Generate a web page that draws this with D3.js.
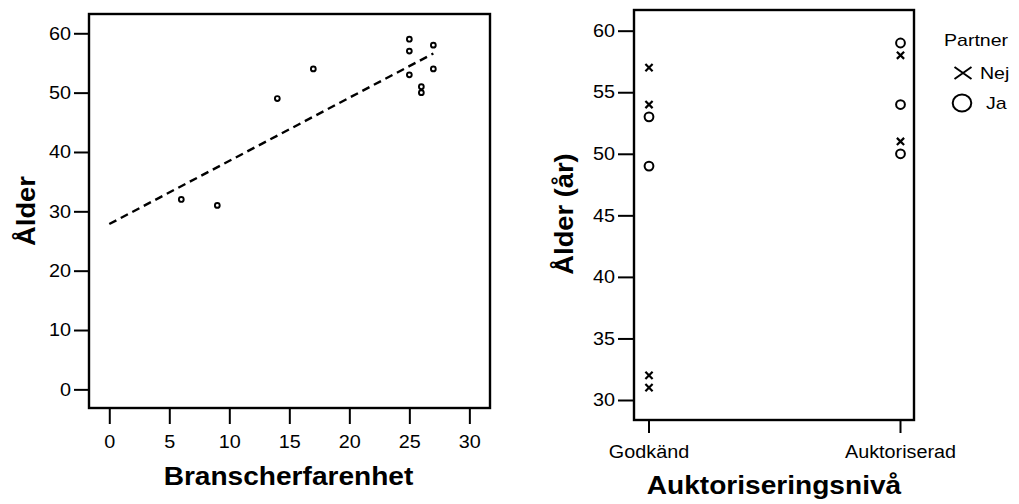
<!DOCTYPE html>
<html>
<head>
<meta charset="utf-8">
<script src="https://cdn.jsdelivr.net/npm/d3@7"></script>
<style>
  html, body { margin: 0; padding: 0; background: #fff; }
  svg { display: block; }
  text { font-family: "Liberation Sans", Arial, sans-serif; fill: #000; }
</style>
</head>
<body>
<svg id="chart" width="1019" height="504"></svg>
<script>
// Left panel: age vs. years of industry experience
const experience = [6, 9, 14, 17, 25, 25, 25, 26, 26, 27, 27];
const ageByExperience = [32, 31, 49, 54, 59, 57, 53, 51, 50, 58, 54];
const leftXTicks = [0, 5, 10, 15, 20, 25, 30];
const leftYTicks = [0, 10, 20, 30, 40, 50, 60];

// Right panel: age by authorisation level, marked by partner status
const levels = ["Godkänd", "Auktoriserad"];
const partnerGroups = ["Nej", "Ja"];
const pointLevel = ["Godkänd", "Godkänd", "Godkänd", "Godkänd", "Godkänd", "Godkänd",
                    "Auktoriserad", "Auktoriserad", "Auktoriserad", "Auktoriserad", "Auktoriserad"];
const pointPartner = ["Nej", "Nej", "Nej", "Nej", "Ja", "Ja",
                      "Nej", "Nej", "Ja", "Ja", "Ja"];
const pointAge = [57, 54, 32, 31, 53, 49,
                  58, 51, 59, 54, 50];
const rightYTicks = [30, 35, 40, 45, 50, 55, 60];

const svg = d3.select("#chart");

// widen text horizontally (glyphs in this chart run slightly wide)
function stretch(sel, sx) {
  sel.each(function () {
    const w = this.getComputedTextLength();
    d3.select(this).attr("textLength", w * sx).attr("lengthAdjust", "spacingAndGlyphs");
  });
}

function styleAxis(g, fontSize, sx) {
  g.select(".domain").remove();
  g.selectAll(".tick line").attr("stroke", "#000").attr("stroke-width", 2);
  g.selectAll(".tick text")
    .style("font-family", "'Liberation Sans', Arial, sans-serif")
    .style("font-size", fontSize + "px").attr("fill", "#000");
  stretch(g.selectAll(".tick text"), sx);
}

// ---------- left panel ----------
const L = { x0: 89, x1: 490, y0: 14, y1: 408 };
const xL = d3.scaleLinear().domain([-1.69, 31.72]).range([L.x0, L.x1]);
const yL = d3.scaleLinear().domain([-3.14, 63.25]).range([L.y1, L.y0]);

const gLy = svg.append("g").attr("transform", `translate(${L.x0},0)`)
  .call(d3.axisLeft(yL).tickValues(leftYTicks).tickSize(15).tickPadding(3));
styleAxis(gLy, 18, 1.1);

const gLx = svg.append("g").attr("transform", `translate(0,${L.y1})`)
  .call(d3.axisBottom(xL).tickValues(leftXTicks).tickSize(16).tickPadding(11));
styleAxis(gLx, 18, 1.1);

// least-squares fit line
const mx = d3.mean(experience), my = d3.mean(ageByExperience);
let sxy = 0, sxx = 0;
experience.forEach((x, i) => { sxy += (x - mx) * (ageByExperience[i] - my); sxx += (x - mx) * (x - mx); });
const slope = sxy / sxx, intercept = my - slope * mx;
const fitX = [0, d3.max(experience)];
svg.append("path")
  .attr("d", d3.line().x(d => xL(d)).y(d => yL(intercept + slope * d))(fitX))
  .attr("fill", "none").attr("stroke", "#000").attr("stroke-width", 2.4)
  .attr("stroke-dasharray", "8,5");

svg.append("g").selectAll("circle")
  .data(experience.map((x, i) => [x, ageByExperience[i]]))
  .join("circle")
  .attr("cx", d => xL(d[0])).attr("cy", d => yL(d[1])).attr("r", 2.4)
  .attr("fill", "none").attr("stroke", "#000").attr("stroke-width", 1.9);

svg.append("rect")
  .attr("x", L.x0).attr("y", L.y0).attr("width", L.x1 - L.x0).attr("height", L.y1 - L.y0)
  .attr("fill", "none").attr("stroke", "#000").attr("stroke-width", 2.4);

const tLx = svg.append("text").attr("x", (L.x0 + L.x1) / 2 - 1).attr("y", 485)
  .attr("text-anchor", "middle").style("font-size", "26px").style("font-weight", "bold")
  .text("Branscherfarenhet");
stretch(tLx, 1.08);
const tLy = svg.append("text").attr("transform", `translate(35,${(L.y0 + L.y1) / 2}) rotate(-90)`)
  .attr("text-anchor", "middle").style("font-size", "26px").style("font-weight", "bold")
  .text("Ålder");
stretch(tLy, 1.05);

// ---------- right panel ----------
const R = { x0: 634, x1: 914, y0: 10, y1: 420 };
const xR = d3.scalePoint().domain(levels).range([648.5, 900]);
const yR = d3.scaleLinear().domain([28.375, 61.68]).range([R.y1, R.y0]);

const gRy = svg.append("g").attr("transform", `translate(${R.x0},0)`)
  .call(d3.axisLeft(yR).tickValues(rightYTicks).tickSize(16).tickPadding(3));
styleAxis(gRy, 18, 1.1);

const gRx = svg.append("g").attr("transform", `translate(0,${R.y1})`)
  .call(d3.axisBottom(xR).tickSize(13).tickPadding(12));
styleAxis(gRx, 18, 1.1);

const pts = pointAge.map((a, i) => ({ level: pointLevel[i], partner: pointPartner[i], age: a }));
const gPts = svg.append("g");
pts.filter(d => d.partner === "Ja").forEach(d => {
  gPts.append("circle").attr("cx", xR(d.level) + 0.5).attr("cy", yR(d.age)).attr("r", 4.4)
    .attr("fill", "none").attr("stroke", "#000").attr("stroke-width", 2);
});
pts.filter(d => d.partner === "Nej").forEach(d => {
  const cx = xR(d.level) + 0.5, cy = yR(d.age), h = 3.6;
  gPts.append("path")
    .attr("d", `M${cx - h},${cy - h}L${cx + h},${cy + h}M${cx - h},${cy + h}L${cx + h},${cy - h}`)
    .attr("stroke", "#000").attr("stroke-width", 2.2).attr("fill", "none");
});

svg.append("rect")
  .attr("x", R.x0).attr("y", R.y0).attr("width", R.x1 - R.x0).attr("height", R.y1 - R.y0)
  .attr("fill", "none").attr("stroke", "#000").attr("stroke-width", 2.4);

const tRx = svg.append("text").attr("x", (R.x0 + R.x1) / 2).attr("y", 494)
  .attr("text-anchor", "middle").style("font-size", "26px").style("font-weight", "bold")
  .text("Auktoriseringsnivå");
stretch(tRx, 1.08);
const tRy = svg.append("text").attr("transform", `translate(573,${(R.y0 + R.y1) / 2 - 1}) rotate(-90)`)
  .attr("text-anchor", "middle").style("font-size", "26px").style("font-weight", "bold")
  .text("Ålder (år)");
stretch(tRy, 1.05);

// legend
const leg = svg.append("g");
const legTitle = leg.append("text").attr("x", 944).attr("y", 46).style("font-size", "17px").text("Partner");
stretch(legTitle, 1.15);
partnerGroups.forEach((p, i) => {
  const cy = 73 + i * 30, cx = 963;
  if (p === "Nej") {
    leg.append("path")
      .attr("d", `M${cx - 8.5},${cy - 6}L${cx + 8.5},${cy + 6}M${cx - 8.5},${cy + 6}L${cx + 8.5},${cy - 6}`)
      .attr("stroke", "#000").attr("stroke-width", 2).attr("fill", "none");
  } else {
    leg.append("ellipse").attr("cx", cx - 1).attr("cy", cy).attr("rx", 9.3).attr("ry", 8.4)
      .attr("fill", "none").attr("stroke", "#000").attr("stroke-width", 2);
  }
  const t = leg.append("text").attr("x", p === "Nej" ? 980 : 986).attr("y", cy + 6)
    .style("font-size", "17px").text(p);
  stretch(t, 1.15);
});
</script>
</body>
</html>
